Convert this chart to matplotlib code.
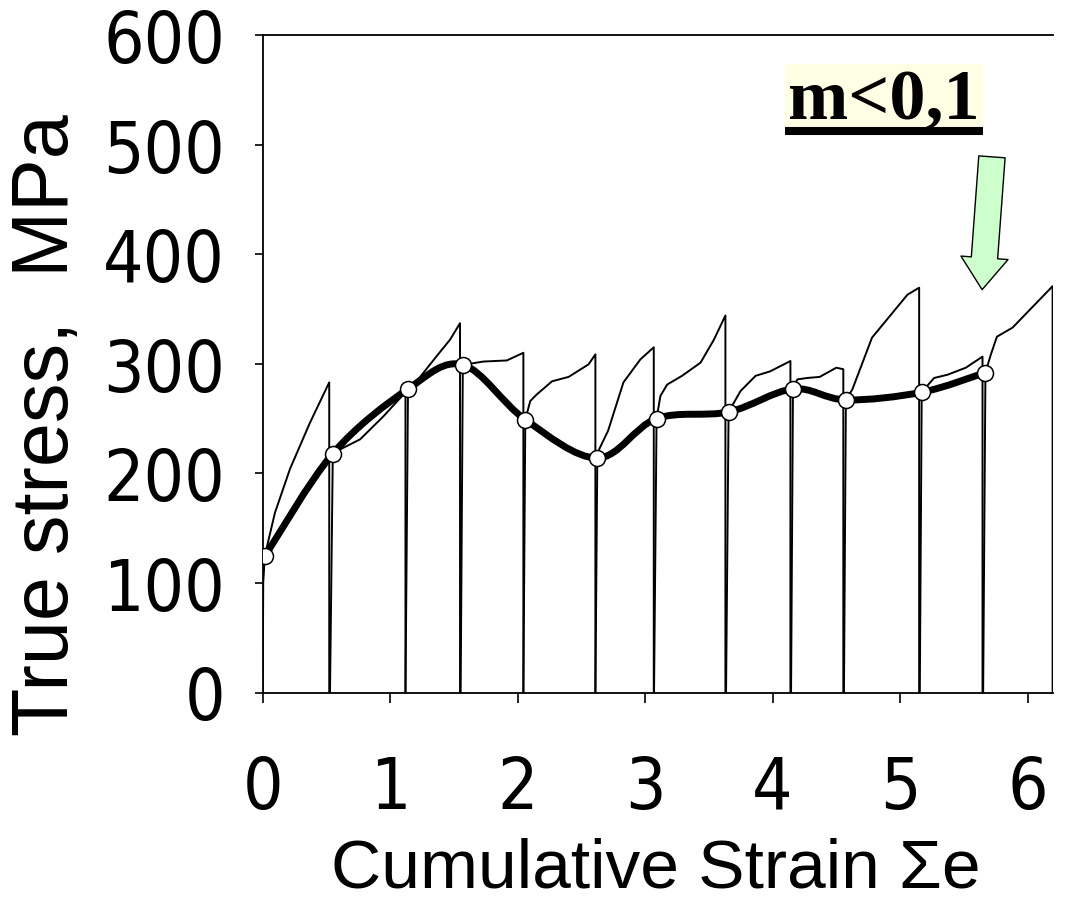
import matplotlib
matplotlib.use('Agg')
import matplotlib.pyplot as plt
from matplotlib.path import Path
from matplotlib.patches import PathPatch, Rectangle
from matplotlib.lines import Line2D
from matplotlib import font_manager

# Pick a narrow sans font for the tick numbers if there is one
names = {f.name for f in font_manager.fontManager.ttflist}
if 'Liberation Sans Narrow' in names:
    NARROW = dict(family='Liberation Sans Narrow')
else:
    NARROW = dict(family='DejaVu Sans', stretch='condensed')

# Smoothed stress curve, one point per pass (white circles)
mark_x = [0.02, 0.55, 1.14, 1.57, 2.06, 2.625, 3.09, 3.655, 4.16, 4.575, 5.17, 5.67]
mark_y = [125, 218, 277, 299, 249, 214, 250, 256, 277, 267, 274, 292]

# Thin flow curves of each pass: loading from 0, flow, unloading to 0
seg_x = [
    [0.0, 0.004, 0.017, 0.096, 0.214, 0.37, 0.522, 0.522],
    [0.528, 0.55, 0.61, 0.764, 0.947, 1.12, 1.12],
    [1.12, 1.14, 1.208, 1.365, 1.47, 1.548, 1.548],
    [1.553, 1.57, 1.627, 1.73, 1.915, 2.045, 2.045],
    [2.045, 2.06, 2.099, 2.15, 2.27, 2.40, 2.557, 2.61, 2.61],
    [2.61, 2.625, 2.64, 2.71, 2.83, 2.963, 3.068, 3.068],
    [3.07, 3.09, 3.12, 3.173, 3.29, 3.435, 3.54, 3.63, 3.63],
    [3.635, 3.655, 3.748, 3.867, 3.98, 4.14, 4.14],
    [4.145, 4.16, 4.194, 4.27, 4.37, 4.50, 4.555, 4.555],
    [4.56, 4.575, 4.626, 4.78, 5.058, 5.15, 5.15],
    [5.155, 5.17, 5.267, 5.373, 5.516, 5.647, 5.647],
    [5.652, 5.67, 5.713, 5.76, 5.883, 6.197, 6.197],
]
seg_y = [
    [0, 100, 125, 164, 204, 246, 283, 0],
    [0, 218, 222, 231, 252, 274, 0],
    [0, 277, 284, 307, 322, 337, 0],
    [0, 299, 300, 302, 303, 310, 0],
    [0, 249, 266, 272, 284, 288, 299.5, 308.6, 0],
    [0, 214, 222, 239, 283, 304, 315, 0],
    [0, 250, 270.6, 281, 289, 301, 322, 344, 0],
    [0, 256, 275, 289, 293, 302.5, 0],
    [0, 277, 285.7, 287, 288, 296.4, 295, 0],
    [0, 267, 276.6, 323.8, 363, 369.4, 0],
    [0, 274, 287, 290, 296.4, 306.5, 0],
    [0, 292, 308.6, 324.7, 333, 370.8, 0],
]

x_ticks = [0, 1, 2, 3, 4, 5, 6]
y_ticks = [0, 100, 200, 300, 400, 500, 600]

W, H = 1079, 912
fig = plt.figure(figsize=(W / 100, H / 100), dpi=100)
ax = fig.add_axes([262.7 / W, 1 - 693.5 / H, (1053 - 262.7) / W, (693.5 - 36) / H])

# Thin pass curves
for xs, ys in zip(seg_x, seg_y):
    ax.plot(xs, ys, color='black', lw=1.4, zorder=2)

# Smooth thick curve through the pass points (Catmull-Rom as cubic Beziers)
pts = list(zip(mark_x, mark_y))
verts = [pts[0]]
codes = [Path.MOVETO]
for i in range(len(pts) - 1):
    p0 = pts[i - 1] if i > 0 else pts[i]
    p1, p2 = pts[i], pts[i + 1]
    p3 = pts[i + 2] if i + 2 < len(pts) else pts[i + 1]
    c1 = (p1[0] + (p2[0] - p0[0]) / 6, p1[1] + (p2[1] - p0[1]) / 6)
    c2 = (p2[0] - (p3[0] - p1[0]) / 6, p2[1] - (p3[1] - p1[1]) / 6)
    verts += [c1, c2, p2]
    codes += [Path.CURVE4] * 3
ax.add_patch(PathPatch(Path(verts, codes), fill=False, lw=5, edgecolor='black',
                       capstyle='round', joinstyle='round', zorder=3))
ax.plot(mark_x, mark_y, 'o', ms=11.5, mfc='white', mec='black', mew=1.1, zorder=4)

# Axes look
ax.set_xlim(0, 6.2)
ax.set_ylim(0, 600)
ax.set_xticks(x_ticks)
ax.set_yticks(y_ticks)
ax.spines['right'].set_visible(False)
for s in ['left', 'bottom', 'top']:
    ax.spines[s].set_linewidth(1.3)
ax.tick_params(axis='x', direction='out', length=7, width=1.2, pad=37)
ax.tick_params(axis='y', direction='out', length=6, width=1.2, pad=21)
for lab in ax.get_xticklabels() + ax.get_yticklabels():
    lab.set_fontproperties(font_manager.FontProperties(size=51, **NARROW))

# Axis titles
fig.text(48 / W, 1 - 425 / H, 'True stress,  MPa', rotation=90, ha='center', va='center',
         fontsize=57, family='Liberation Sans')
fig.text(656 / W, 1 - 870 / H, 'Cumulative Strain \u03a3e', ha='center', va='center',
         fontsize=50, family='Liberation Sans')

# Annotation box "m<0,1" with underline
fig.add_artist(Rectangle((785 / W, 1 - 130 / H), (983 - 785) / W, 65 / H,
                         transform=fig.transFigure, facecolor='#FFFFE6', edgecolor='none'))
fig.text(884 / W, 1 - 119 / H, 'm<0,1', ha='center', va='baseline', fontsize=52,
         family='Liberation Serif', weight='bold')
fig.add_artist(Line2D([785 / W, 983 / W], [1 - 132 / H, 1 - 132 / H], transform=fig.transFigure,
                      color='black', lw=5.8, solid_capstyle='butt'))

# Green arrow pointing at the last pass
ax.annotate('', xy=(5.644, 367.6), xytext=(5.721, 488.8),
            arrowprops=dict(arrowstyle='simple,head_length=23,head_width=34,tail_width=19',
                            mutation_scale=1, facecolor='#CCFFCC', edgecolor='black', lw=1.0,
                            shrinkA=0, shrinkB=0), zorder=5)

fig.savefig('out.png', dpi=100)
